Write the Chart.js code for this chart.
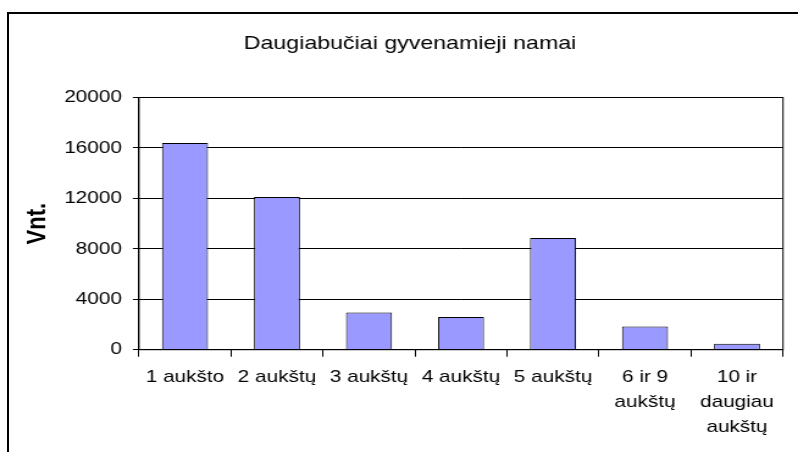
<!DOCTYPE html>
<html>
<head>
<meta charset="utf-8">
<script src="https://cdn.jsdelivr.net/npm/chart.js@4"></script>
<style>
  html, body { margin: 0; padding: 0; background: #fff; overflow: hidden; width: 798px; height: 452px; }
  #wrap { position: absolute; left: 0; top: 0; width: 654px; height: 452px; transform: scaleX(1.2202); transform-origin: 0 0; }
  #frame { position: absolute; left: 7px; top: 12px; width: 900px; height: 600px; border: 2px solid #000; pointer-events: none; }
</style>
</head>
<body>
<div id="wrap"><canvas id="chart" width="654" height="452" style="width:654px;height:452px"></canvas></div>
<div id="frame"></div>
<script>
const categories = [
  "1 aukšto",
  "2 aukštų",
  "3 aukštų",
  "4 aukštų",
  "5 aukštų",
  ["6 ir 9", "aukštų"],
  ["10 ir", "daugiau", "aukštų"],
];
const houseCounts = [16400, 12100, 2950, 2600, 8850, 1830, 480];
const yTicks = [0, 4000, 8000, 12000, 16000, 20000];

const fontFamily = "'Liberation Sans', Arial, sans-serif";

// outline of the plot area (Excel style box)
const plotBorder = {
  id: "plotBorder",
  afterDraw: (chart) => {
    const { ctx, chartArea } = chart;
    ctx.save();
    ctx.strokeStyle = "#000";
    ctx.lineWidth = 1;
    ctx.strokeRect(chartArea.left, chartArea.top, chartArea.right - chartArea.left, chartArea.bottom - chartArea.top);
    ctx.restore();
  },
};

const data = {
  labels: categories,
  datasets: [
    {
      data: houseCounts,
      backgroundColor: "#9999FF",
      borderColor: "#000",
      borderWidth: 1,
      barPercentage: 0.5,
      categoryPercentage: 1.0,
    },
  ],
};

const options = {
  responsive: false,
  devicePixelRatio: 1,
  animation: false,
  layout: { padding: { left: 30.3, right: 12.3, top: 20, bottom: 0 } },
  plugins: {
    legend: { display: false },
    tooltip: { enabled: false },
    title: {
      display: true,
      text: "Daugiabučiai gyvenamieji namai",
      color: "#000",
      font: { family: fontFamily, size: 19, weight: "normal" },
      padding: { top: 12, bottom: 42.7 },
    },
  },
  scales: {
    x: {
      grid: { offset: true, drawOnChartArea: false, color: "#000", tickLength: 7 },
      border: { color: "#000" },
      ticks: {
        color: "#000",
        maxRotation: 0,
        autoSkip: false,
        padding: 8,
        font: { family: fontFamily, size: 17, lineHeight: 1.47 },
      },
      afterFit: (scale) => { scale.height = 102.3; },
    },
    y: {
      min: 0,
      max: 20000,
      afterBuildTicks: (scale) => { scale.ticks = yTicks.map((v) => ({ value: v })); },
      grid: { color: "#000", tickLength: 5 },
      border: { color: "#000" },
      ticks: {
        color: "#000",
        padding: 9,
        font: { family: fontFamily, size: 17 },
        callback: (value) => String(value),
      },
      title: {
        display: true,
        text: "Vnt.",
        color: "#000",
        font: { family: fontFamily, size: 22, weight: "bold" },
        padding: { top: -12.8, bottom: 0 },
      },
      afterFit: (scale) => { scale.width = 83.6; },
    },
  },
};

new Chart(document.getElementById("chart"), {
  type: "bar",
  data: data,
  options: options,
  plugins: [plotBorder],
});
</script>
</body>
</html>
